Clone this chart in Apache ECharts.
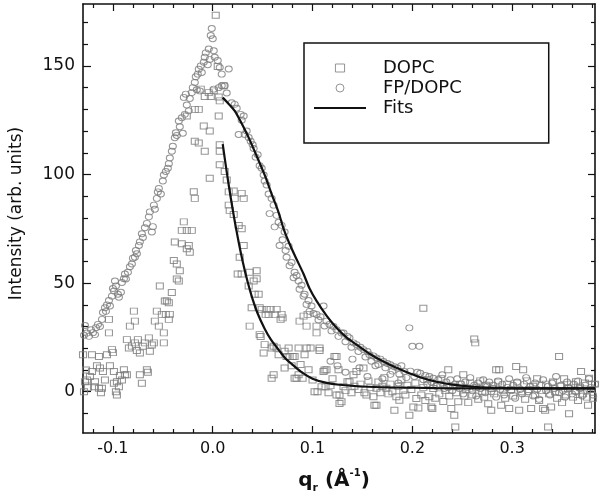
<!DOCTYPE html>
<html>
<head>
<meta charset="utf-8">
<script src="https://cdn.jsdelivr.net/npm/echarts@6/dist/echarts.min.js"></script>
<style>
  html, body { margin: 0; background: #fff; }
  #chart { width: 600px; height: 499px; }
</style>
</head>
<body>
<div id="chart"></div>
<script>
// axis ranges and ticks
const xMin = -0.13, xMax = 0.383
const yMin = -19, yMax = 178.5
const xMajor = [-0.1, 0, 0.1, 0.2, 0.3]
const xMinor = [-0.12, -0.08, -0.06, -0.04, -0.02, 0.02, 0.04, 0.06, 0.08, 0.12, 0.14, 0.16, 0.18,
  0.22, 0.24, 0.26, 0.28, 0.32, 0.34, 0.36, 0.38]
const yMajor = [0, 50, 100, 150]
const yMinor = [-10, 10, 20, 30, 40, 60, 70, 80, 90, 110, 120, 130, 140, 160, 170]

// FP/DOPC data (circles)
const fpPts = [
  [-0.131,29.4],[-0.129,26],[-0.128,30.5],[-0.126,27],[-0.124,25.5],[-0.122,28.5],[-0.120,27.2],[-0.118,26.3],
  [-0.117,29.5],[-0.115,31],[-0.113,30],[-0.111,33.3],[-0.110,36.5],[-0.108,38.7],[-0.107,37],[-0.106,40],
  [-0.104,42],[-0.103,39.5],[-0.101,44],[-0.100,47.5],[-0.099,46.4],[-0.098,51],[-0.097,48.7],[-0.095,44.9],
  [-0.094,43.5],[-0.092,45.8],[-0.091,50.3],[-0.089,52],[-0.088,54.2],[-0.087,51.9],[-0.085,55],[-0.083,57.5],
  [-0.081,58.8],[-0.080,61.5],[-0.078,61.9],[-0.077,65],[-0.076,63.5],[-0.074,67.3],[-0.073,69],[-0.071,72.7],
  [-0.070,71],[-0.068,75.5],[-0.066,77.5],[-0.064,80.5],[-0.063,82.8],[-0.061,73.5],[-0.060,76],[-0.059,85.9],
  [-0.058,84],[-0.056,89],[-0.055,92],[-0.054,93.6],[-0.052,91],[-0.050,97],[-0.049,99.8],[-0.047,101.4],
  [-0.045,102.9],[-0.044,105],[-0.043,107.6],[-0.041,110.7],[-0.040,113],[-0.038,116.9],[-0.037,119.2],
  [-0.036,118],[-0.034,124.6],[-0.033,122],[-0.031,126.1],[-0.030,119],[-0.028,127.7],[-0.029,135.5],
  [-0.027,137],[-0.026,132],[-0.024,129.3],[-0.023,135],[-0.021,137.7],[-0.020,140],[-0.018,142.4],
  [-0.017,145],[-0.016,139],[-0.015,146.2],[-0.013,138.5],[-0.014,148.5],[-0.012,150],[-0.011,147],
  [-0.009,151.7],[-0.008,154],[-0.007,156],[-0.005,150.5],[-0.004,157.8],[-0.003,153],[-0.002,164],
  [-0.001,167.2],[0.000,162.5],[0.001,157],[0.001,139.3],[0.002,154],[0.005,152.5],[0.006,140],[0.007,149.3],
  [0.009,146.2],[0.009,140.9],[0.012,140.9],[0.014,137.5],[0.016,148.6],
  [0.019,133],[0.022,132.3],[0.024,130.5],[0.026,118.4],[0.028,127.7],[0.029,125],[0.031,126.9],[0.032,118.4],
  [0.034,120],[0.036,117],[0.038,115.3],[0.040,113.7],[0.041,112],[0.043,108],[0.045,109.1],[0.047,104],
  [0.049,102.9],[0.051,99.8],[0.052,97],[0.054,95.2],[0.056,91],[0.057,82],[0.059,89],[0.061,85.9],
  [0.062,75.9],[0.064,81.2],[0.066,78],[0.067,67.3],[0.069,76.6],[0.070,70],[0.072,73.5],[0.073,65],
  [0.074,61.9],[0.076,67],[0.077,58],[0.079,59.5],[0.081,52.5],[0.082,55],[0.084,53.5],[0.086,51],
  [0.087,47.2],[0.089,49],[0.091,44],[0.092,44.9],[0.094,40.2],[0.096,42],[0.097,37],[0.099,39.5],
  [0.101,36],[0.104,35.6],[0.106,33],[0.108,34.5],[0.111,39.5],[0.112,30.3],[0.114,32.5],[0.117,31],
  [0.119,28],[0.121,30],[0.124,28.6],[0.126,25.5],[0.129,27],[0.131,27.1],[0.133,23],[0.135,25.5],
  [0.137,24.8],[0.139,20.5],[0.141,22.5],[0.144,21.7],[0.146,18.5],[0.148,20.5],[0.151,19.4],[0.153,16],
  [0.155,18.5],[0.157,17],[0.159,14],[0.161,16.5],[0.164,15.5],[0.166,12.5],[0.168,15],[0.171,13.9],
  [0.173,11],[0.175,13],[0.178,12.4],[0.180,9.5],[0.182,11.5],[0.185,10.9],[0.187,8],[0.189,12],
  [0.192,9.3],[0.194,6.5],[0.197,29.4],[0.198,9.5],[0.200,20.9],[0.202,7],[0.205,9],[0.207,20.9],
  [0.208,8.5],[0.211,5.5],[0.213,7.5],[0.215,3.5],[0.217,7],[0.219,4.5],[0.221,6.2],[0.224,2.5],
  [0.118,14],[0.125,12],[0.133,9],[0.140,15],[0.147,11],[0.155,7],[0.163,12],[0.170,6],[0.178,8],[0.186,4],
  [0.226,5.5],[0.228,3],[0.230,7.8],[0.232,1.5],[0.234,4.5],[0.236,2],[0.238,5.5],[0.240,0.5],[0.243,3.5],
  [0.245,6],[0.247,1.5],[0.249,3.5],[0.251,-1],[0.253,4.5],[0.255,2],[0.258,6.5],[0.260,0.5],[0.262,3],
  [0.264,-2],[0.266,4],[0.268,1.5],[0.271,5.5],[0.273,-0.5],[0.275,2.5],[0.277,4.5],[0.279,0],[0.281,3],
  [0.284,-2.5],[0.286,5],[0.288,1],[0.290,3.5],[0.292,-1.5],[0.295,2],[0.297,6],[0.299,0.5],[0.301,3],
  [0.303,-3],[0.305,4.5],[0.308,1],[0.310,-1],[0.312,3.5],[0.314,6.5],[0.316,0],[0.318,2.5],[0.321,-2],
  [0.323,4],[0.325,1],[0.327,-3.5],[0.329,3],[0.331,5.5],[0.334,0.5],[0.336,2.5],[0.338,-1.5],[0.340,4],
  [0.342,1.5],[0.344,7],[0.347,-0.5],[0.349,3],[0.351,0.5],[0.353,-2.5],[0.355,4.5],[0.357,2],[0.360,-1],
  [0.362,3.5],[0.364,0],[0.366,5],[0.368,1.5],[0.370,-2],[0.373,3],[0.375,0.5],[0.377,6],[0.379,2],
  [0.381,-1.5],[0.383,3.5]
]

// DOPC data (squares)
const dopcPts = [
  [-0.131,-0.8],[-0.130,17],[-0.129,0],[-0.128,4.6],[-0.127,10],[-0.126,5.4],[-0.125,2],[-0.123,7],
  [-0.121,17],[-0.121,9.3],[-0.119,2.3],[-0.118,4.6],[-0.116,12],[-0.114,16.2],[-0.114,1.6],[-0.113,10.9],
  [-0.112,-0.5],[-0.111,1.6],[-0.110,9.3],[-0.108,5.4],[-0.106,17],[-0.104,33.3],[-0.104,27.1],[-0.103,12],
  [-0.101,19.4],[-0.100,18],[-0.099,9.3],[-0.099,3.9],[-0.097,0],[-0.096,-1.5],[-0.096,4.6],[-0.094,2.3],
  [-0.093,7.5],[-0.091,5.4],[-0.089,10.1],[-0.088,7.8],[-0.086,24],[-0.086,7.8],[-0.084,20.1],[-0.083,30.2],
  [-0.081,21],[-0.079,37.1],[-0.078,32.5],[-0.078,22.5],[-0.076,19],[-0.075,24],[-0.073,17.8],[-0.073,7.8],
  [-0.071,3.9],[-0.070,20.9],[-0.068,22.5],[-0.066,10.1],[-0.065,9],[-0.064,24.8],[-0.063,18.6],[-0.061,21.5],
  [-0.059,22.5],[-0.058,32.5],[-0.056,37.1],[-0.054,30.2],[-0.053,48.7],[-0.051,35.6],[-0.049,27.1],
  [-0.049,22.5],[-0.048,41.8],[-0.047,35.6],[-0.046,41.8],[-0.044,41],[-0.044,33.3],[-0.043,35.6],
  [-0.041,45.7],[-0.039,60.4],[-0.038,68.9],[-0.036,58.8],[-0.036,51.9],[-0.034,51],[-0.033,55.7],
  [-0.031,68.1],[-0.031,74.3],[-0.029,78.2],[-0.026,74.3],[-0.026,65.8],[-0.024,67.3],[-0.023,64.2],
  [-0.021,74.3],[-0.019,92.1],[-0.018,89],[-0.026,126.9],[-0.018,130],[-0.014,130],[-0.018,115.3],
  [-0.014,114.5],[-0.012,139.3],[-0.009,122.3],[-0.008,135.9],[-0.008,110.7],[-0.004,137.7],[-0.003,98.3],
  [-0.003,120],[-0.002,135.9],[0.001,138.5],[0.003,173.3],[0.005,149.7],[0.006,135.7],[0.006,126.9],
  [0.007,133.9],[0.007,110.7],[0.007,113.7],[0.007,104.5],[0.011,140.9],[0.012,101.4],[0.014,97.5],
  [0.016,92],[0.021,92.4],[0.022,89],[0.016,85.9],[0.017,83.5],[0.021,81.6],[0.029,91.3],[0.031,89],
  [0.026,76.5],[0.029,75],[0.031,67.3],[0.027,61.9],[0.025,54.2],[0.029,54.2],[0.037,55],[0.041,51],
  [0.036,48.7],[0.042,44.9],[0.039,38.7],[0.037,30.2],
  [0.044,55.7],[0.044,52],[0.046,44.9],[0.047,38.7],[0.047,26.3],[0.048,25.4],[0.049,37.9],[0.051,17.8],
  [0.052,21.7],[0.053,35.6],[0.054,37.9],[0.056,35.6],[0.058,37.9],[0.059,20.1],[0.059,6.2],[0.061,20.9],
  [0.061,7.8],[0.062,35.6],[0.064,37.9],[0.064,20.1],[0.066,17],[0.068,33.3],[0.069,35.6],[0.070,34],
  [0.072,18.6],[0.072,10.9],[0.074,16.2],[0.076,20.1],[0.077,16.2],[0.079,12],[0.080,16.2],[0.082,6.2],
  [0.082,16.2],[0.084,6.2],[0.086,20.1],[0.086,7.8],[0.087,32.5],[0.088,12.5],[0.090,6.2],[0.091,34.8],
  [0.092,17],[0.094,30.2],[0.094,20.1],[0.095,35.6],[0.096,10.1],[0.098,20.1],[0.100,5.4],[0.102,0],
  [0.104,27.1],[0.104,30.2],[0.105,0],[0.107,20.1],[0.107,19],[0.109,2.3],[0.111,9.3],[0.112,10],
  [0.113,2.3],[0.114,10.1],[0.116,-0.5],[0.118,2.8],[0.120,6],[0.122,16.2],[0.124,16.2],[0.124,-1.5],
  [0.126,10.1],[0.127,-1.5],[0.127,-5.4],[0.129,-4.6],[0.131,2.3],[0.133,0.5],[0.135,4.6],[0.137,4.6],
  [0.139,-0.5],[0.141,7.8],[0.142,2.5],[0.144,9.3],[0.146,1],[0.148,3.5],[0.151,10.9],[0.152,-0.5],
  [0.154,-1.5],[0.156,5],[0.158,2],[0.161,-2.3],[0.162,-6.2],[0.164,1.6],[0.164,-6.2],[0.166,4.5],
  [0.168,-0.5],[0.170,2.5],[0.172,6.5],[0.174,1.6],[0.176,-1],[0.178,3.5],[0.180,0],[0.182,-8.5],
  [0.184,-2.3],[0.186,2.5],[0.187,-3.9],[0.189,5.5],[0.191,0.5],[0.193,-1.5],[0.195,3],[0.197,-10.8],
  [0.199,1],[0.201,-7],[0.203,4],[0.204,-3.1],[0.206,-7.5],[0.209,-1.5],[0.211,38.4],[0.211,2],[0.213,-4],
  [0.215,5.5],[0.217,-2.3],[0.219,-7],[0.220,-7.7],[0.221,1.5],[0.223,-3],[0.225,3.5],[0.227,-1],[0.229,6],
  [0.231,-4.5],[0.233,0.5],[0.236,10.1],[0.237,-2],[0.239,-7.7],[0.241,2.5],[0.242,-10.8],[0.243,-16.2],
  [0.244,-0.5],[0.246,-4.6],[0.248,3.5],[0.251,7.8],[0.252,-2],[0.254,1],[0.256,-5],[0.258,4],[0.260,-1.5],
  [0.262,24.3],[0.263,22.5],[0.264,2],[0.266,-3.5],[0.268,5],[0.270,0],[0.272,-2.5],[0.274,3],[0.276,-5.5],
  [0.279,-8.5],[0.280,1.5],[0.282,-1],[0.284,10.1],[0.286,4.5],[0.287,10.1],[0.289,-6.2],[0.291,0.5],
  [0.293,-3],[0.295,3.5],[0.297,-7.7],[0.299,1],[0.301,-2],[0.304,11.6],[0.305,4],[0.307,-8.5],[0.309,0],
  [0.311,10.1],[0.313,-3.5],[0.315,5],[0.317,1],[0.319,-7.7],[0.321,2.5],[0.323,-1.5],[0.325,6],[0.327,-4],
  [0.329,0.5],[0.331,-7.7],[0.333,-8.5],[0.334,3.5],[0.336,-16.2],[0.337,-1],[0.339,-7],[0.341,4.5],
  [0.343,0],[0.345,-3],[0.347,16.2],[0.348,2.5],[0.350,-5],[0.352,6],[0.354,-1.5],[0.356,1.5],[0.357,-10.1],
  [0.359,3.5],[0.361,-2.5],[0.363,0.5],[0.364,4.6],[0.366,-4],[0.368,2],[0.369,9.3],[0.371,-1],[0.373,4],
  [0.375,-2.5],[0.376,-6.2],[0.377,6.2],[0.379,1],[0.381,-3],[0.383,3.5]
]

// fit curves
const dopcFit = [
  [0.010,114],[0.014,101.2],[0.018,89.4],[0.022,78.6],[0.026,68.8],[0.030,60],[0.035,50.5],[0.040,42.5],
  [0.045,36],[0.052,29],[0.058,24.2],[0.065,19.9],[0.072,15.8],[0.079,12.8],[0.089,9],[0.100,6],[0.113,4.2],
  [0.127,3.2],[0.150,2.4],[0.177,2],[0.224,1.7],[0.300,1.5],[0.383,1.5]
]
const fpFit = [
  [0.010,135.4],[0.016,132.5],[0.022,129.3],[0.029,123.5],[0.036,117],[0.044,108.5],[0.052,99.8],[0.059,91],
  [0.066,82.5],[0.071,75],[0.077,68],[0.084,61],[0.091,54.2],[0.097,47.5],[0.104,41.8],[0.114,35],
  [0.124,29.4],[0.134,25],[0.144,21.7],[0.157,17.5],[0.171,13.9],[0.184,11],[0.197,8.5],[0.210,6.3],
  [0.224,4.6],[0.240,3.3],[0.261,2.3],[0.295,1.7],[0.340,1.5],[0.383,1.5]
]

const ink = "#111"
const dotGrey = "#7a7a7a"
const font = "DejaVu Sans"

function axis(dim, pos, ticks, len, main) {
  return {
    type: "value",
    position: pos,
    min: dim === "x" ? xMin : yMin,
    max: dim === "x" ? xMax : yMax,
    axisLine: { show: main, onZero: false, lineStyle: { color: ink, width: 1.6 } },
    axisTick: { show: true, inside: true, length: len, customValues: ticks, lineStyle: { color: ink, width: 1.2 } },
    axisLabel: { show: false },
    splitLine: { show: false }
  }
}

const xAxes = [
  axis("x", "bottom", xMajor, 7, true),
  axis("x", "bottom", xMinor, 4, false),
  axis("x", "top", xMajor, 7, true),
  axis("x", "top", xMinor, 4, false)
]
xAxes[0].axisLabel = {
  show: true, customValues: xMajor, margin: 8, color: ink, fontFamily: font, fontSize: 16,
  formatter: (v) => v.toFixed(1)
}
xAxes[0].name = "{b|q}{s|r}{b| (Å}{p|-1}{b|)}"
xAxes[0].nameLocation = "middle"
xAxes[0].nameGap = 35
xAxes[0].nameTextStyle = {
  padding: [0, 10, 0, 0],
  rich: {
    b: { fontFamily: font, fontWeight: "bold", fontSize: 20, color: ink, lineHeight: 26 },
    s: { fontFamily: font, fontWeight: "bold", fontSize: 11, color: ink, lineHeight: 12, verticalAlign: "bottom" },
    p: { fontFamily: font, fontWeight: "bold", fontSize: 10, color: ink, lineHeight: 12, verticalAlign: "top" }
  }
}

const yAxes = [
  axis("y", "left", yMajor, 8, true),
  axis("y", "left", yMinor, 5, false),
  axis("y", "right", yMajor, 7, true),
  axis("y", "right", yMinor, 4, false)
]
yAxes[0].axisLabel = {
  show: true, customValues: yMajor, margin: 8, color: ink, fontFamily: font, fontSize: 17
}
yAxes[0].name = "Intensity (arb. units)"
yAxes[0].nameLocation = "middle"
yAxes[0].nameGap = 58
yAxes[0].nameTextStyle = { fontFamily: font, fontSize: 17, color: ink, padding: [0, 0, 0, 10] }

const hollow = { color: "rgba(0,0,0,0)", borderColor: dotGrey, borderWidth: 1 }

const option = {
  backgroundColor: "#fff",
  animation: false,
  grid: { left: 81, right: 5, top: 4, bottom: 66 },
  legend: {
    orient: "vertical",
    left: 304,
    top: 43,
    padding: [15, 87, 25, 9],
    itemWidth: 52,
    itemHeight: 8,
    itemGap: 0,
    symbolKeepAspect: true,
    borderColor: ink,
    borderWidth: 1.5,
    borderRadius: 0,
    textStyle: { fontFamily: font, fontSize: 18, color: ink, lineHeight: 20, padding: [0, 0, 0, 12] },
    data: [
      { name: "DOPC", icon: "path://M0,0H8V7H0Z", itemStyle: hollow },
      { name: "FP/DOPC", icon: "circle", itemStyle: hollow },
      {
        name: "Fits",
        itemStyle: { color: "rgba(0,0,0,0)", borderWidth: 0, opacity: 0 },
        lineStyle: { color: ink, width: 2 }
      }
    ]
  },
  xAxis: xAxes,
  yAxis: yAxes,
  series: [
    {
      name: "DOPC", type: "scatter", symbol: "rect", symbolSize: [7, 6],
      itemStyle: hollow, data: dopcPts
    },
    {
      name: "FP/DOPC", type: "scatter", symbol: "circle", symbolSize: [7, 6],
      itemStyle: hollow, data: fpPts
    },
    {
      name: "Fits", type: "line", symbol: "none", smooth: 0.3,
      lineStyle: { color: ink, width: 2.2 }, itemStyle: { color: ink }, data: dopcFit
    },
    {
      name: "Fits", type: "line", symbol: "none", smooth: 0.3,
      lineStyle: { color: ink, width: 2.2 }, itemStyle: { color: ink }, data: fpFit
    }
  ]
}

const chart = echarts.init(document.getElementById("chart"))
chart.setOption(option)
</script>
</body>
</html>
